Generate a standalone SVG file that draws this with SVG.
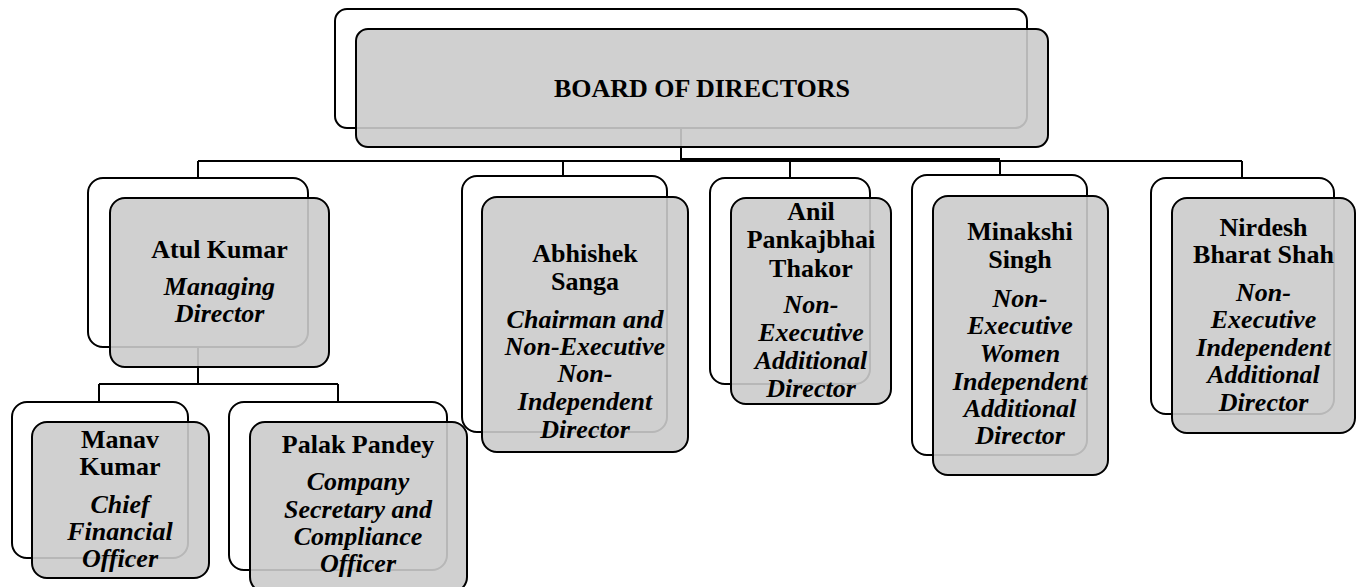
<svg xmlns="http://www.w3.org/2000/svg" width="1358" height="587" viewBox="0 0 1358 587" font-family="Liberation Serif, Times New Roman, serif">
<style>
.back{fill:#ffffff;stroke:#000;stroke-width:2}
.front{fill:#cbcbcb;fill-opacity:0.9;stroke:#000;stroke-width:2}
.conn{fill:none;stroke:#000;stroke-width:2}
.thick{fill:none;stroke:#000;stroke-width:4}
text{font-size:26px;fill:#000;text-anchor:middle}
.n{font-weight:bold}
.r{font-weight:bold;font-style:italic}
</style>
<rect x="0" y="0" width="1358" height="587" fill="#fff"/>
<g id="connectors">
<path class="conn" d="M681 128V161M198 161H1242M198 161V178M563 161V176M790 161V178M1000 161V174M1242 161V177"/>
<path class="thick" d="M681 160H1000"/>
<path class="conn" d="M198 347V384M99 384H338M99 384V402M338 384V402"/>
</g>
<g id="board">
<rect class="back" x="335" y="9" width="692" height="119" rx="12"/>
<rect class="front" x="356" y="29" width="692" height="118" rx="12"/>
<text class="n" x="702" y="97">BOARD OF DIRECTORS</text>
</g>
<g id="atul">
<rect class="back" x="88" y="178" width="220" height="169" rx="15"/>
<rect class="front" x="110" y="198" width="219" height="169" rx="15"/>
<text class="n" x="219.5" y="258">Atul Kumar</text>
<text class="r" x="219.5" y="295">Managing</text>
<text class="r" x="219.5" y="322">Director</text>
</g>
<g id="abhishek">
<rect class="back" x="462" y="176" width="205" height="256" rx="15"/>
<rect class="front" x="482" y="197" width="206" height="255" rx="15"/>
<text class="n" x="585" y="262">Abhishek</text>
<text class="n" x="585" y="290">Sanga</text>
<text class="r" x="585" y="328">Chairman and</text>
<text class="r" x="585" y="355">Non-Executive</text>
<text class="r" x="585" y="382">Non-</text>
<text class="r" x="585" y="410">Independent</text>
<text class="r" x="585" y="438">Director</text>
</g>
<g id="anil">
<rect class="back" x="710" y="178" width="160" height="206" rx="15"/>
<rect class="front" x="731" y="198" width="160" height="206" rx="15"/>
<text class="n" x="811" y="220">Anil</text>
<text class="n" x="811" y="248">Pankajbhai</text>
<text class="n" x="811" y="277">Thakor</text>
<text class="r" x="811" y="313">Non-</text>
<text class="r" x="811" y="341">Executive</text>
<text class="r" x="811" y="369">Additional</text>
<text class="r" x="811" y="397">Director</text>
</g>
<g id="minakshi">
<rect class="back" x="912" y="175" width="175" height="280" rx="15"/>
<rect class="front" x="933" y="196" width="175" height="279" rx="15"/>
<text class="n" x="1020" y="240">Minakshi</text>
<text class="n" x="1020" y="268">Singh</text>
<text class="r" x="1020" y="307">Non-</text>
<text class="r" x="1020" y="334">Executive</text>
<text class="r" x="1020" y="362">Women</text>
<text class="r" x="1020" y="390">Independent</text>
<text class="r" x="1020" y="417">Additional</text>
<text class="r" x="1020" y="444">Director</text>
</g>
<g id="nirdesh">
<rect class="back" x="1151" y="178" width="183" height="236" rx="15"/>
<rect class="front" x="1172" y="198" width="183" height="235" rx="15"/>
<text class="n" x="1263.5" y="236">Nirdesh</text>
<text class="n" x="1263.5" y="263">Bharat Shah</text>
<text class="r" x="1263.5" y="301">Non-</text>
<text class="r" x="1263.5" y="328">Executive</text>
<text class="r" x="1263.5" y="356">Independent</text>
<text class="r" x="1263.5" y="383">Additional</text>
<text class="r" x="1263.5" y="411">Director</text>
</g>
<g id="manav">
<rect class="back" x="12" y="402" width="176" height="156" rx="15"/>
<rect class="front" x="32" y="422" width="177" height="156" rx="15"/>
<text class="n" x="120" y="448">Manav</text>
<text class="n" x="120" y="475">Kumar</text>
<text class="r" x="120" y="513">Chief</text>
<text class="r" x="120" y="540">Financial</text>
<text class="r" x="120" y="567">Officer</text>
</g>
<g id="palak">
<rect class="back" x="229" y="402" width="218" height="168" rx="15"/>
<rect class="front" x="250" y="422" width="217" height="170" rx="15"/>
<text class="n" x="358" y="453">Palak Pandey</text>
<text class="r" x="358" y="490">Company</text>
<text class="r" x="358" y="518">Secretary and</text>
<text class="r" x="358" y="545">Compliance</text>
<text class="r" x="358" y="572">Officer</text>
</g>
</svg>
